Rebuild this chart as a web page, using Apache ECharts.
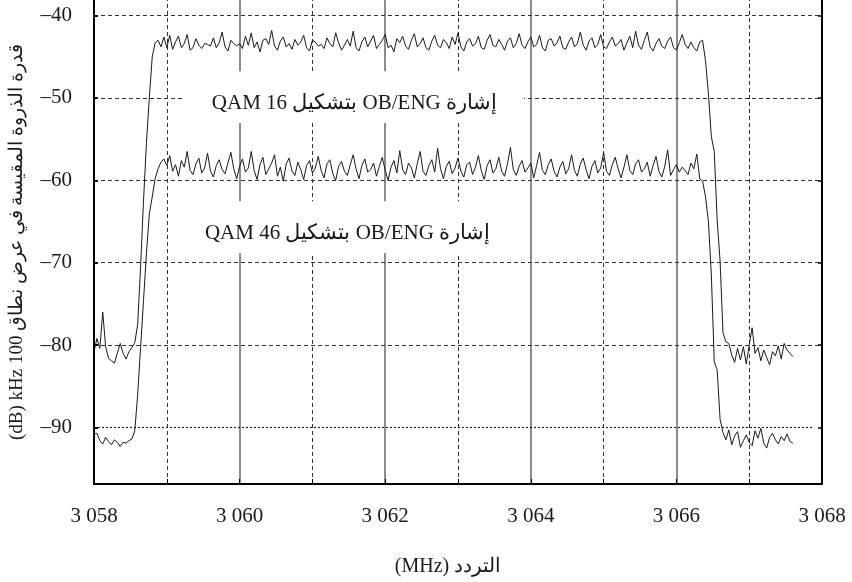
<!DOCTYPE html>
<html><head><meta charset="utf-8">
<script src="https://cdn.jsdelivr.net/npm/echarts@6/dist/echarts.min.js"></script>
<style>html,body{margin:0;padding:0;background:#fff}#c{width:852px;height:582px}</style>
</head><body><div id="c"></div>
<script>
// ---- data ----
const freqStartMHz = 3058.0;
const freqStepMHz = 0.04;

// Upper trace (QAM 16), dB, one value per 0.04 MHz from 3058.00
const qam16Values = [
 -80.8,-79.2,-80.4,-76.0,-80.2,-81.6,-81.9,-82.2,-81.0,-79.8,
 -81.0,-81.7,-80.8,-80.3,-79.7,-77.5,-70.5,-62.5,-55.5,-50.0,
 -45.0,-43.3,
 -43.0,-43.8,-42.6,-43.9,-42.4,-44.1,-43.2,-42.5,-43.9,-43.4,
 -42.3,-44.2,-43.9,-42.8,-43.6,-44.0,-43.4,-43.5,-43.7,-42.7,
 -43.9,-43.3,-42.0,-43.8,-44.3,-43.0,-43.4,-43.7,-43.4,-44.0,
 -42.5,-43.6,-42.1,-43.9,-43.2,-44.4,-43.0,-42.8,-43.5,-41.8,
 -43.7,-44.2,-43.1,-42.6,-43.8,-43.4,-44.1,-42.9,-43.6,-43.2,
 -42.4,-43.9,-44.3,-43.0,-43.2,-43.7,-43.5,-44.0,-42.7,-43.4,
 -43.8,-42.1,-43.3,-44.2,-43.6,-42.9,-43.7,-41.9,-43.9,-44.3,
 -43.2,-42.6,-43.8,-43.1,-42.4,-44.0,-43.5,-43.0,-42.3,-43.9,
 -43.6,-44.4,-42.8,-43.3,-42.5,-43.7,-44.1,-43.0,-42.2,-43.8,
 -43.4,-42.7,-43.9,-44.2,-43.1,-42.4,-43.6,-43.9,-42.9,-43.3,
 -44.0,-42.6,-43.5,-42.1,-43.8,-44.3,-43.2,-42.8,-43.7,-43.4,
 -42.5,-43.9,-44.1,-43.0,-42.3,-43.6,-43.8,-42.9,-43.5,-44.2,
 -43.1,-42.7,-43.9,-43.4,-42.2,-43.6,-44.0,-43.2,-42.6,-43.8,
 -43.5,-42.4,-43.9,-44.3,-43.0,-42.8,-43.7,-43.3,-42.5,-43.9,
 -44.1,-43.2,-42.6,-43.8,-43.4,-42.0,-43.6,-44.2,-43.1,-42.7,
 -43.9,-43.5,-42.3,-43.8,-44.0,-43.2,-42.6,-43.7,-43.4,-42.9,
 -44.2,-43.3,-42.5,-43.9,-41.9,-43.6,-44.1,-43.0,-42.0,-43.8,
 -44.3,-43.4,-42.8,-43.7,-44.0,-43.1,-42.6,-43.9,-44.2,-43.3,
 -42.3,-43.5,-44.0,-43.2,-43.9,-44.3,
 -43.2,-43.0,
 -45.5,-49.5,-54.7,-56.5,-64.8,-69.8,-78.5,-79.6,-79.8,
 -81.2,-82.1,-80.4,-81.8,-80.2,-82.3,-80.0,-77.9,-81.0,-80.3,
 -81.9,-80.6,-81.5,-82.4,-80.8,-81.3,-80.1,-81.7,-79.8,-80.6,
 -81.0,-81.4
];

// Lower trace (QAM 46), dB, one value per 0.04 MHz from 3058.00
const qam46Values = [
 -90.8,-90.7,-91.6,-92.0,-91.2,-91.7,-92.1,-91.5,-91.8,-92.3,
 -91.8,-91.9,-91.6,-91.4,-90.4,-86.0,-80.3,-74.6,-68.9,-64.1,
 -62.0,-59.8,-58.6,-57.8,-57.4,
 -58.2,-57.0,-58.9,-58.1,-59.5,-57.6,-58.4,-56.5,-58.8,-59.3,
 -58.0,-57.3,-59.1,-58.5,-56.7,-58.9,-59.6,-58.2,-57.5,-58.7,
 -59.2,-57.9,-56.6,-58.6,-59.8,-58.3,-57.4,-59.0,-58.5,-56.5,
 -58.8,-59.9,-58.1,-57.2,-59.3,-58.6,-57.9,-56.9,-59.5,-58.4,
 -60.1,-58.0,-57.3,-58.9,-59.4,-57.8,-58.7,-59.9,-58.2,-57.6,
 -59.1,-58.5,-57.1,-58.8,-59.7,-58.0,-57.5,-59.2,-60.0,-58.3,
 -57.7,-58.9,-59.4,-58.1,-56.9,-58.6,-59.8,-58.2,-57.4,-59.0,
 -58.7,-57.9,-59.5,-58.3,-57.2,-58.8,-60.0,-58.4,-57.6,-59.1,
 -56.4,-58.7,-59.3,-57.9,-58.5,-59.7,-58.0,-56.5,-58.9,-59.4,
 -58.2,-57.5,-59.0,-56.1,-58.6,-59.8,-58.3,-57.7,-59.2,-58.5,
 -57.3,-58.9,-59.6,-58.1,-57.8,-59.3,-58.4,-57.0,-58.8,-59.9,
 -58.2,-57.5,-59.1,-58.6,-57.2,-58.9,-59.5,-58.0,-56.0,-58.7,
 -59.4,-58.3,-57.6,-59.0,-58.5,-57.9,-59.7,-58.2,-56.6,-58.8,
 -59.3,-58.1,-57.4,-58.9,-59.6,-58.4,-57.7,-59.2,-58.6,-56.9,
 -58.8,-59.5,-58.0,-57.3,-58.7,-59.8,-58.3,-57.6,-59.1,-58.5,
 -56.6,-58.9,-59.4,-58.1,-57.2,-58.6,-59.7,-58.4,-56.9,-58.8,
 -59.3,-58.0,-57.5,-59.0,-58.6,-57.8,-59.5,-58.2,-57.1,-58.9,
 -59.6,-58.3,-56.3,-59.4,-58.7,-58.1,-59.0,-58.4,-58.8,-59.3,
 -57.9,-58.6,
 -56.8,-59.8,-60.1,-62.0,-65.0,-71.5,-82.0,-83.0,-89.0,-90.6,
 -91.5,-90.3,-92.1,-91.0,-90.5,-92.4,-91.6,-90.9,-91.8,-92.2,
 -90.4,-91.3,-90.1,-91.9,-92.5,-91.2,-90.7,-91.5,-92.0,-91.1,
 -91.6,-90.8,-91.7,-91.9
];

const xLabelValues = [3058, 3060, 3062, 3064, 3066, 3068];
const xTickValues = [3058, 3059, 3060, 3061, 3062, 3063, 3064, 3065, 3066, 3067, 3068];
const xSolidGrid = [3060, 3062, 3064, 3066];
const xDashedGrid = [3059, 3061, 3063, 3065, 3067];
const yTickValues = [-90, -80, -70, -60, -50, -40];
const yDashedGrid = [-80, -70, -60, -50, -40];
const yDottedGrid = -90;

const labelTexts = ['QAM 16 بتشكيل OB/ENG إشارة', 'QAM 46 بتشكيل OB/ENG إشارة'];
const xAxisTitle = '(MHz) التردد';
const yAxisTitle = '(dB) kHz 100 قدرة الذروة المقيسة في عرض نطاق';

// ---- chart ----
const FONT = "'Liberation Serif', 'DejaVu Serif', serif";
const INK = '#1a1a1a';
const toPairs = vals => vals.map((v, i) => [Math.round((freqStartMHz + i * freqStepMHz) * 1000) / 1000, v]);

const gridLines = [];
xDashedGrid.forEach(v => gridLines.push({ xAxis: v, lineStyle: { type: [4, 3], color: '#333', width: 1 } }));
xSolidGrid.forEach(v => gridLines.push({ xAxis: v, lineStyle: { type: 'solid', color: '#666', width: 1.5 } }));
yDashedGrid.forEach(v => gridLines.push({ yAxis: v, lineStyle: { type: [4, 3], color: '#333', width: 1 } }));
gridLines.push([
  { coord: [3058, yDottedGrid], lineStyle: { type: [2, 2], color: '#222', width: 1.2 } },
  { coord: [3067.88, yDottedGrid] }
]);

const chart = echarts.init(document.getElementById('c'), null, { renderer: 'canvas' });
chart.setOption({
  animation: false,
  backgroundColor: '#fff',
  grid: { left: 93, right: 30, top: 0, bottom: 94, containLabel: false },
  xAxis: {
    type: 'value', min: 3058, max: 3068, z: 5,
    axisLine: { show: true, onZero: false, lineStyle: { color: '#000', width: 2 } },
    axisTick: { show: true, inside: true, length: 5, customValues: xTickValues, lineStyle: { color: '#000', width: 1 } },
    axisLabel: {
      customValues: xLabelValues, margin: 22, fontSize: 21, fontFamily: FONT, color: INK,
      formatter: v => Math.floor(v / 1000) + ' ' + String(Math.round(v) % 1000).padStart(3, '0')
    },
    splitLine: { show: false },
    name: xAxisTitle, nameLocation: 'middle', nameGap: 73,
    nameTextStyle: { fontSize: 20, fontFamily: FONT, color: INK, padding: [0, 20, 0, 0] }
  },
  yAxis: [{
    type: 'value', min: -96.86, max: -38.11, position: 'left', z: 5,
    axisLine: { show: true, onZero: false, lineStyle: { color: '#000', width: 2 } },
    axisTick: { show: true, inside: true, length: 4, customValues: yTickValues, lineStyle: { color: '#000', width: 2 } },
    axisLabel: { customValues: yTickValues, margin: 22, fontSize: 21, fontFamily: FONT, color: INK, formatter: v => '–' + Math.abs(v) },
    splitLine: { show: false },
    name: yAxisTitle, nameLocation: 'middle', nameGap: 67,
    nameTextStyle: { fontSize: 19, fontFamily: FONT, color: INK }
  }, {
    type: 'value', min: -96.86, max: -38.11, position: 'right', z: 5,
    axisLine: { show: true, onZero: false, lineStyle: { color: '#000', width: 2 } },
    axisTick: { show: true, inside: true, length: 4, customValues: yTickValues, lineStyle: { color: '#000', width: 1.5 } },
    axisLabel: { show: false },
    splitLine: { show: false }
  }],
  series: [
    {
      name: 'grid', type: 'line', data: [], z: 1, silent: true,
      markLine: { z: 1, silent: true, symbol: ['none', 'none'], label: { show: false }, data: gridLines, animation: false }
    },
    {
      name: 'labels', type: 'line', data: [], z: 2, silent: true,
      markArea: {
        z: 2,
        silent: true,
        itemStyle: { color: '#fff', opacity: 1 },
        label: { show: true, position: 'inside', offset: [0, 6], fontSize: 21, fontFamily: FONT, color: INK, formatter: '{b}' },
        emphasis: { disabled: true },
        data: [
          [{ name: labelTexts[0], xAxis: 3059.25, yAxis: -46.77 }, { xAxis: 3063.905, yAxis: -53.03 }],
          [{ name: labelTexts[1], xAxis: 3059.155, yAxis: -62.55 }, { xAxis: 3063.81, yAxis: -68.81 }]
        ]
      }
    },
    {
      name: 'QAM 16', type: 'line', z: 3, data: toPairs(qam16Values), showSymbol: false, symbol: 'none',
      lineStyle: { color: INK, width: 1 }, silent: true
    },
    {
      name: 'QAM 46', type: 'line', z: 3, data: toPairs(qam46Values), showSymbol: false, symbol: 'none',
      lineStyle: { color: INK, width: 1 }, silent: true
    }
  ]
});
</script>
</body></html>
